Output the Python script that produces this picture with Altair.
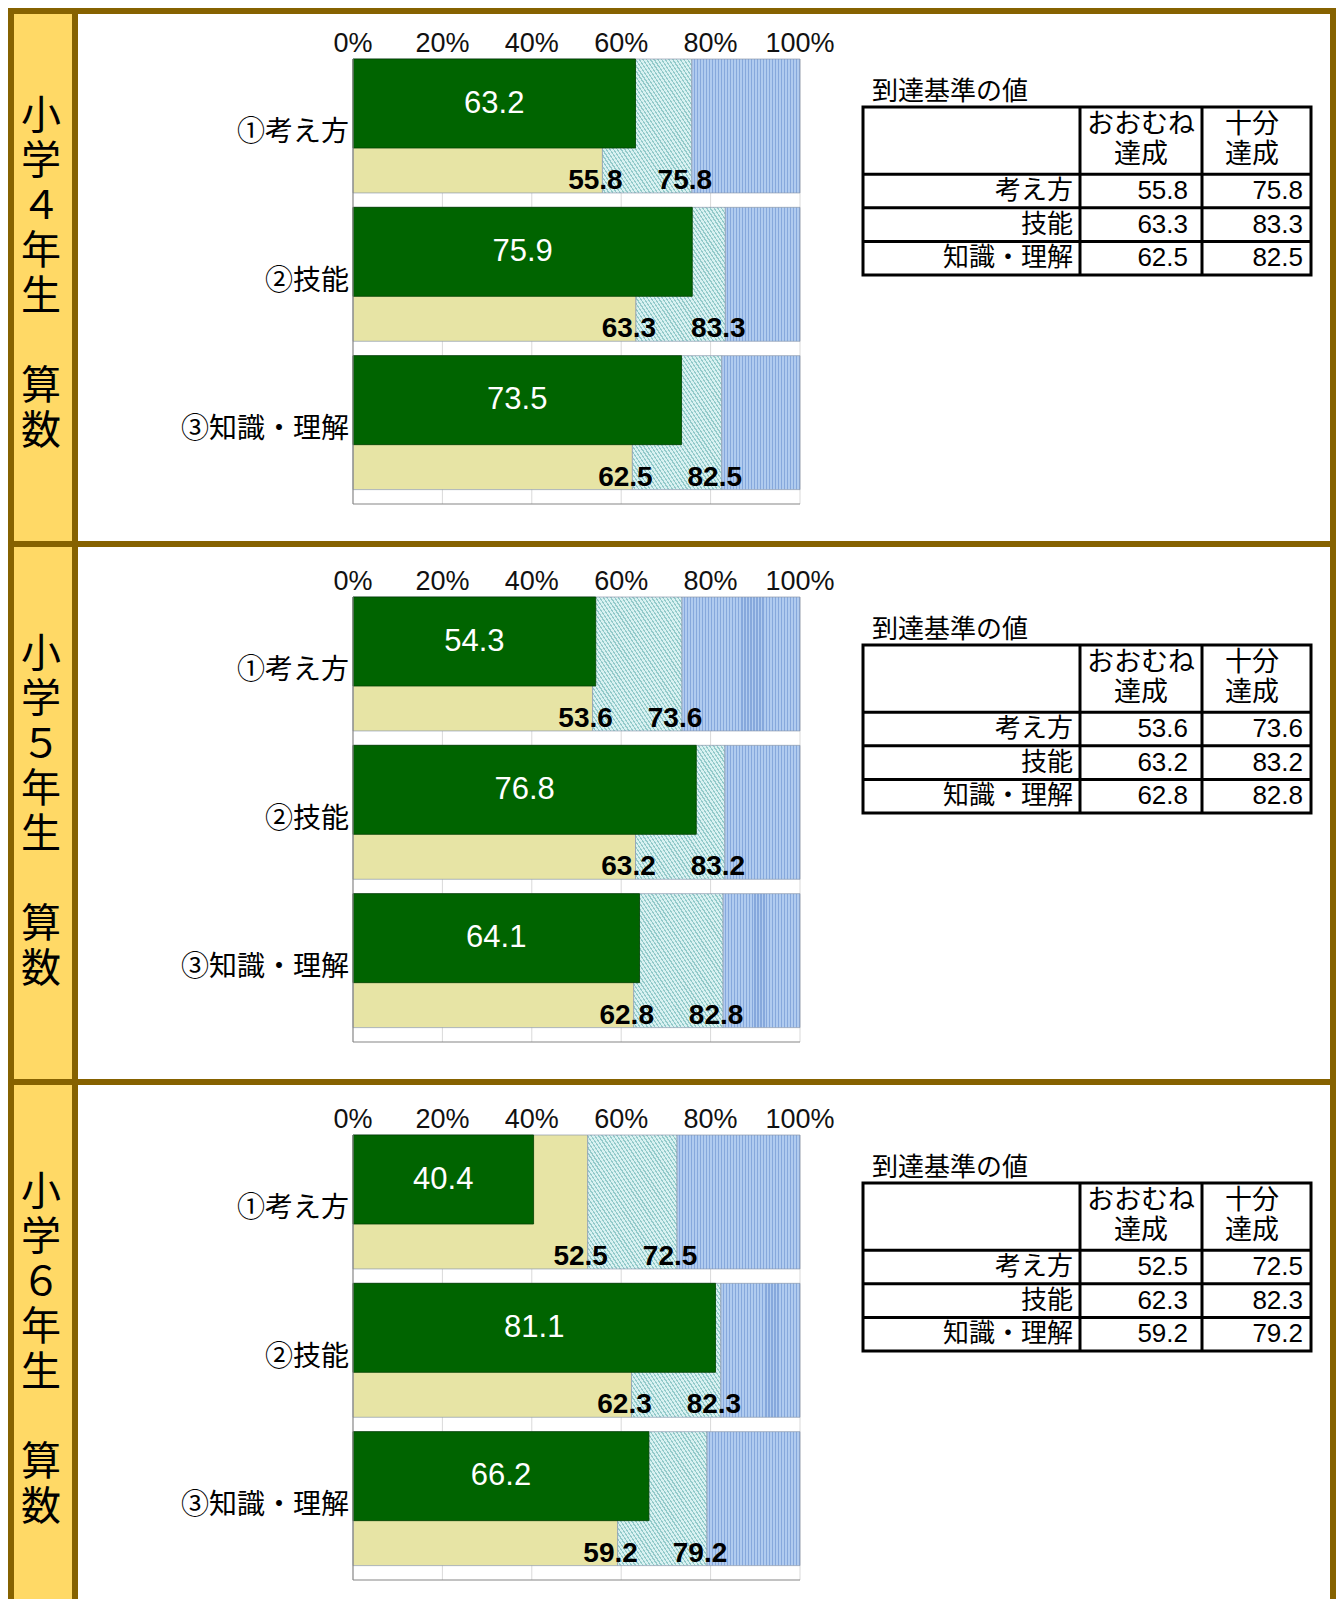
import altair as alt
import pandas as pd

# ---------------- data ----------------
categories = ["①考え方", "②技能", "③知識・理解"]
table_rows = ["考え方", "技能", "知識・理解"]
grade_top_lines = [["小", "学", "４", "年", "生"], ["小", "学", "５", "年", "生"], ["小", "学", "６", "年", "生"]]
subject_lines = ["算", "数"]

g4_score = [63.2, 75.9, 73.5]
g4_mostly = [55.8, 63.3, 62.5]
g4_full = [75.8, 83.3, 82.5]

g5_score = [54.3, 76.8, 64.1]
g5_mostly = [53.6, 63.2, 62.8]
g5_full = [73.6, 83.2, 82.8]

g6_score = [40.4, 81.1, 66.2]
g6_mostly = [52.5, 62.3, 59.2]
g6_full = [72.5, 82.3, 79.2]

x_ticks = [0, 20, 40, 60, 80, 100]
x_tick_labels = ["0%", "20%", "40%", "60%", "80%", "100%"]
table_title = "到達基準の値"
head_mostly = ["おおむね", "達成"]
head_full = ["十分", "達成"]

# ---------------- style ----------------
GOLD = "#866200"
CELL_YELLOW = "#FFD966"
GREEN = "#006400"
C_LOW = "#E7E4A5"
JP = "Noto Sans CJK JP"
NUM = "Liberation Sans"
MAIN_W = 1252
LABEL_W = 58
PX_PER_PCT = 4.47


def stripes(n, light, dark, frac, x1, y1, x2, y2):
    stops = []
    for k in range(n):
        a = k / n
        b = (k + frac) / n
        c = (k + 1) / n
        stops += [
            alt.GradientStop(offset=a, color=light),
            alt.GradientStop(offset=b, color=light),
            alt.GradientStop(offset=b, color=dark),
            alt.GradientStop(offset=c, color=dark),
        ]
    return alt.LinearGradient(gradient="linear", stops=stops, x1=x1, y1=y1, x2=x2, y2=y2)


FILL_MID = stripes(48, "#D8F1F1", "#93CACA", 0.62, 0, 1, 1, 0)


def section(top_lines, score, mostly, full, sec_h, top):
    df = pd.DataFrame({
        "cat": categories, "row": table_rows, "i": list(range(3)),
        "score": score, "mostly": mostly, "full": full,
    })
    one = pd.DataFrame({"a": [0]})
    xs = alt.Scale(domain=[0, 100], range=[275, 722])
    ys = alt.Scale(domain=[0, 3], range=[top, top + 445])

    base = alt.Chart(df).transform_calculate(
        zero="0", hundred="100",
        bot="datum.i + 0.903", gbot="datum.i + 0.6",
        gmid="datum.i + 0.3", cmid="datum.i + 0.5",
        half="datum.score / 2",
    )

    grid = alt.Chart(pd.DataFrame({"t": x_ticks[1:]})).mark_rule(
        color="#D9D9D9", strokeWidth=1
    ).encode(x=alt.X("t:Q", scale=xs), y=alt.YDatum(0, scale=ys), y2=alt.datum(3))

    def seg(src, x1, x2, fill):
        return src.mark_rect(fill=fill, stroke="#8C9AAE", strokeWidth=0.7).encode(
            x=alt.X(f"{x1}:Q", scale=xs), x2=f"{x2}:Q",
            y=alt.Y("i:Q", scale=ys), y2="bot:Q",
        )

    low = seg(base, "zero", "mostly", C_LOW)
    mid = seg(base, "mostly", "full", FILL_MID)
    highs = []
    for k in range(3):
        n = max(8, round(PX_PER_PCT * (100 - full[k]) / 3))
        highs.append(seg(base.transform_filter(f"datum.i == {k}"), "full", "hundred",
                         stripes(n, "#B0CBEF", "#86A8DC", 0.6, 0, 0, 1, 0)))

    green = base.mark_rect(fill=GREEN, stroke="#003F00", strokeWidth=0.8).encode(
        x=alt.X("zero:Q", scale=xs), x2="score:Q",
        y=alt.Y("i:Q", scale=ys), y2="gbot:Q",
    )

    left_axis = alt.Chart(one).mark_rule(color="#868686", strokeWidth=1.2).encode(
        x=alt.datum(0), y=alt.datum(0), y2=alt.datum(3)
    )
    bottom_axis = alt.Chart(one).mark_rule(color="#868686", strokeWidth=1.2).encode(
        x=alt.datum(0), x2=alt.datum(100), y=alt.datum(3)
    )

    tick_text = alt.Chart(pd.DataFrame({"t": x_ticks, "lab": x_tick_labels})).mark_text(
        dy=-15, fontSize=27, font=NUM, baseline="middle", color="#111111"
    ).encode(x=alt.X("t:Q", scale=xs), y=alt.datum(0), text="lab:N")

    score_text = base.mark_text(
        color="white", fontSize=31, font=NUM, baseline="middle"
    ).encode(x="half:Q", y="gmid:Q", text=alt.Text("score:Q", format=".1f"))

    mostly_text = base.mark_text(
        color="black", fontSize=28, fontWeight="bold", font=NUM,
        baseline="alphabetic", dx=-7, dy=-4,
    ).encode(x="mostly:Q", y="bot:Q", text=alt.Text("mostly:Q", format=".1f"))

    full_text = base.mark_text(
        color="black", fontSize=28, fontWeight="bold", font=NUM,
        baseline="alphabetic", dx=-7, dy=-4,
    ).encode(x="full:Q", y="bot:Q", text=alt.Text("full:Q", format=".1f"))

    cat_text = base.mark_text(
        align="right", baseline="middle", dx=-4, fontSize=28, font=JP, color="black"
    ).encode(x="zero:Q", y="cmid:Q", text="cat:N")

    bars = alt.layer(grid, low, mid, *highs, green, left_axis, bottom_axis,
                     tick_text, score_text, mostly_text, full_text, cat_text)

    # ---------- table ----------
    tt = top + 48
    ts = alt.Scale(domain=[-2, 3], range=[tt, tt + 168])
    tbase = alt.Chart(df).transform_calculate(rm="datum.i + 0.5")

    t_title = alt.Chart(one).mark_text(
        text=table_title, align="left", baseline="middle", dy=-15,
        fontSize=26, font=JP, color="black"
    ).encode(x=alt.value(794), y=alt.YDatum(-2, scale=ts))

    frame = alt.Chart(one).mark_rect(
        fillOpacity=0, stroke="black", strokeWidth=3
    ).encode(x=alt.value(785), x2=alt.value(1233), y=alt.datum(-2), y2=alt.datum(3))

    hlines = alt.Chart(pd.DataFrame({"r": [0, 1, 2]})).mark_rule(
        color="black", strokeWidth=3
    ).encode(x=alt.value(785), x2=alt.value(1233), y="r:Q")

    vline1 = alt.Chart(one).mark_rule(color="black", strokeWidth=3).encode(
        x=alt.value(1002), y=alt.datum(-2), y2=alt.datum(3))
    vline2 = alt.Chart(one).mark_rule(color="black", strokeWidth=3).encode(
        x=alt.value(1124), y=alt.datum(-2), y2=alt.datum(3))

    h1 = alt.Chart(one).mark_text(
        text=head_mostly, lineHeight=30, baseline="middle", dy=18,
        fontSize=27, font=JP, color="black"
    ).encode(x=alt.value(1063), y=alt.datum(-2))
    h2 = alt.Chart(one).mark_text(
        text=head_full, lineHeight=30, baseline="middle", dy=18,
        fontSize=27, font=JP, color="black"
    ).encode(x=alt.value(1174), y=alt.datum(-2))

    row_text = tbase.mark_text(
        align="right", baseline="middle", fontSize=26, font=JP, color="black"
    ).encode(x=alt.value(995), y="rm:Q", text="row:N")
    m_text = tbase.mark_text(
        align="right", baseline="middle", fontSize=26, font=NUM, color="black"
    ).encode(x=alt.value(1110), y="rm:Q", text=alt.Text("mostly:Q", format=".1f"))
    f_text = tbase.mark_text(
        align="right", baseline="middle", fontSize=26, font=NUM, color="black"
    ).encode(x=alt.value(1225), y="rm:Q", text=alt.Text("full:Q", format=".1f"))

    table = alt.layer(t_title, frame, hlines, vline1, vline2, h1, h2,
                      row_text, m_text, f_text)

    main = alt.layer(bars, table).resolve_scale(
        x="independent", y="independent"
    ).properties(width=MAIN_W, height=sec_h, view=alt.ViewBackground(fill="white"))

    lab_top = alt.Chart(one).mark_text(
        text=top_lines, lineHeight=45, fontSize=40, font=JP,
        baseline="middle", align="center", color="black"
    ).encode(x=alt.value(27), y=alt.value(top + 58))
    lab_sub = alt.Chart(one).mark_text(
        text=subject_lines, lineHeight=45, fontSize=40, font=JP,
        baseline="middle", align="center", color="black"
    ).encode(x=alt.value(27), y=alt.value(top + 328))
    label = alt.layer(lab_top, lab_sub).properties(
        width=LABEL_W, height=sec_h, view=alt.ViewBackground(fill=CELL_YELLOW)
    )

    return alt.hconcat(label, main, spacing=6)


s1 = section(grade_top_lines[0], g4_score, g4_mostly, g4_full, 527, 45)
s2 = section(grade_top_lines[1], g5_score, g5_mostly, g5_full, 532, 50)
s3 = section(grade_top_lines[2], g6_score, g6_mostly, g6_full, 514, 50)

chart = alt.vconcat(s1, s2, s3, spacing=6).properties(
    background=GOLD,
    padding={"left": 6, "top": 6, "right": 6, "bottom": 0},
).configure_view(strokeWidth=0).configure_axis(disable=True)

chart.save("out.html", embed_options={"renderer": "svg", "actions": False})
